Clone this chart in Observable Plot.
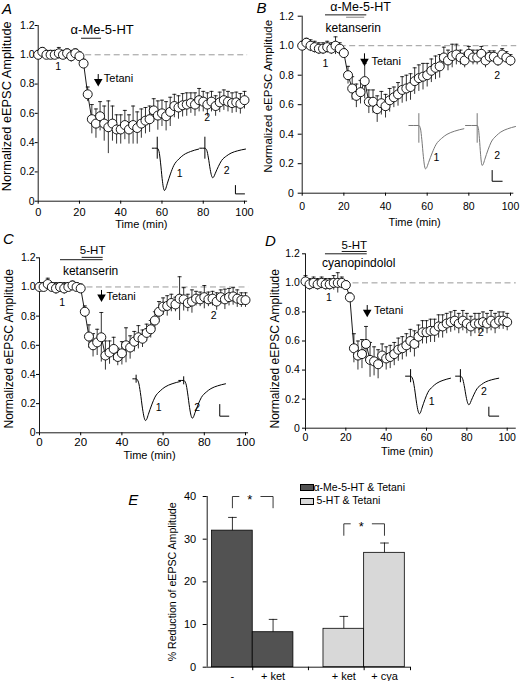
<!DOCTYPE html>
<html><head><meta charset="utf-8">
<script src="https://cdn.jsdelivr.net/npm/d3@7"></script>
<script src="https://cdn.jsdelivr.net/npm/@observablehq/plot@0.6"></script>
<style>
body{margin:0;background:#fff;}
#fig{position:relative;width:521px;height:681px;overflow:hidden;font-family:"Liberation Sans",Arial,Helvetica,sans-serif;color:#000;}
#fig svg{position:absolute;overflow:visible;color:#000;}
.letter{position:absolute;font-style:italic;font-size:15px;line-height:15px;}
.leg{position:absolute;font-size:10.5px;line-height:12px;white-space:nowrap;}
.sw{position:absolute;width:12px;height:5px;border:0.8px solid #000;}
</style></head><body><div id="fig"></div>
<script>
// ---------- data ----------
const time = [0,2,4,6,8,10,12,14,16,18,20,22,24,26,28,30,32,34,36,38,40,42,44,46,48,50,52,54,56,58,60,62,64,66,68,70,72,74,76,78,80,82,84,86,88,90,92,94,96,98,100];
const xTicks = [0,20,40,60,80,100];
const yTicks = [0,0.2,0.4,0.6,0.8,1.0,1.2];

const ampA = [1.00,1.02,1.00,1.00,1.00,1.01,1.00,1.01,0.99,1.01,0.99,
  0.94,0.73,0.56,0.53,0.58,0.53,0.505,0.53,0.49,0.49,
  0.52,0.49,0.52,0.50,0.53,0.55,0.56,0.62,0.585,0.60,
  0.58,0.61,0.65,0.64,0.655,0.66,0.67,0.66,0.69,0.68,
  0.66,0.68,0.65,0.675,0.69,0.68,0.67,0.675,0.665,0.69];
const errA = [0.03,0.03,0.03,0.03,0.03,0.04,0.03,0.03,0.04,0.03,0.03,
  0.03,0.05,0.10,0.10,0.10,0.12,0.18,0.12,0.10,0.10,
  0.10,0.10,0.13,0.11,0.10,0.09,0.09,0.08,0.10,0.09,
  0.10,0.10,0.08,0.08,0.08,0.08,0.07,0.08,0.08,0.07,
  0.08,0.07,0.07,0.07,0.07,0.07,0.07,0.07,0.07,0.06];

const ampB = [1.00,1.02,1.00,0.99,0.98,0.98,0.99,0.98,1.00,0.98,0.95,
  0.80,0.71,0.66,0.685,0.76,0.62,0.62,0.57,0.61,0.59,
  0.63,0.65,0.67,0.70,0.71,0.72,0.76,0.78,0.79,0.80,
  0.83,0.85,0.86,0.92,0.90,0.93,0.94,0.92,0.90,0.945,
  0.92,0.92,0.945,0.90,0.925,0.925,0.90,0.94,0.92,0.90];
const errB = [0.03,0.03,0.04,0.04,0.04,0.04,0.04,0.04,0.06,0.04,0.03,
  0.06,0.08,0.08,0.08,0.12,0.08,0.08,0.09,0.08,0.08,
  0.08,0.07,0.08,0.09,0.09,0.09,0.09,0.09,0.09,0.08,
  0.08,0.08,0.08,0.07,0.07,0.08,0.07,0.05,0.05,0.05,
  0.05,0.05,0.05,0.05,0.04,0.04,0.04,0.04,0.04,0.04];

const ampC = [1.00,1.00,1.02,1.00,0.99,1.00,0.99,1.00,1.01,1.00,0.99,
  0.83,0.66,0.60,0.62,0.655,0.53,0.55,0.575,0.52,0.545,
  0.60,0.585,0.625,0.655,0.645,0.685,0.71,0.77,0.83,0.865,
  0.87,0.89,0.88,0.92,0.915,0.89,0.90,0.92,0.915,0.93,
  0.915,0.92,0.90,0.93,0.915,0.93,0.935,0.92,0.91,0.91];
const errC = [0.03,0.03,0.04,0.03,0.04,0.03,0.04,0.03,0.03,0.03,0.03,
  0.04,0.08,0.08,0.09,0.17,0.10,0.08,0.08,0.06,0.08,
  0.12,0.08,0.07,0.08,0.06,0.06,0.06,0.06,0.07,0.06,
  0.07,0.06,0.05,0.15,0.08,0.06,0.08,0.05,0.05,0.08,
  0.05,0.05,0.06,0.05,0.07,0.06,0.06,0.06,0.05,0.05];

const ampD = [1.01,0.99,1.00,0.99,1.00,0.99,0.99,1.00,1.00,1.00,0.985,
  0.90,0.55,0.50,0.51,0.58,0.47,0.46,0.44,0.50,0.48,
  0.49,0.51,0.54,0.55,0.57,0.60,0.58,0.63,0.66,0.66,
  0.67,0.67,0.70,0.70,0.72,0.73,0.74,0.72,0.74,0.72,
  0.70,0.72,0.72,0.73,0.72,0.74,0.72,0.74,0.74,0.73];
const errD = [0.04,0.04,0.04,0.04,0.04,0.04,0.04,0.05,0.07,0.04,0.03,
  0.03,0.10,0.10,0.10,0.12,0.12,0.10,0.10,0.08,0.08,
  0.08,0.08,0.08,0.08,0.08,0.08,0.09,0.08,0.08,0.08,
  0.08,0.08,0.08,0.08,0.07,0.07,0.07,0.07,0.07,0.07,
  0.07,0.07,0.07,0.07,0.07,0.07,0.07,0.06,0.06,0.06];

// example EPSC traces (in each panel's data units)
const tracesA = [{x0:55.3,xs:57.7,xm:61.2,xe:77.8,yb:0.362,ym:0.073,ye:0.356},{x0:78.3,xs:80.8,xm:84.6,xe:100.5,yb:0.362,ym:0.16,ye:0.356}];
const tracesB = [{x0:51.2,xs:56.0,xm:59.2,xe:77.6,yb:0.459,ym:0.165,ye:0.437},{x0:78.4,xs:84.0,xm:86.4,xe:102.4,yb:0.459,ym:0.188,ye:0.452}];
const tracesC = [{x0:45.3,xs:46.9,xm:51.5,xe:68.4,yb:0.37,ym:0.084,ye:0.352},{x0:67.6,xs:70.0,xm:74.2,xe:90.3,yb:0.359,ym:0.10,ye:0.336}];
const tracesD = [{x0:49.6,xs:52.1,xm:56.5,xe:71.9,yb:0.358,ym:0.099,ye:0.344},{x0:74.4,xs:76.8,xm:81.0,xe:95.8,yb:0.358,ym:0.161,ye:0.344}];
const traceFall = [[0,0],[0.25,0.08],[0.45,0.33],[0.68,0.72],[0.85,0.93],[1,1]];
const traceRise = [[0,1],[0.03,0.97],[0.08,0.84],[0.175,0.6],[0.27,0.4],[0.42,0.24],[0.56,0.14],[0.76,0.06],[1,0]];

// panel E
const eLabels = ["-", "+ ket", "+ ket", "+ cya"];
const eValues = [32.0, 8.2, 9.0, 26.8];
const eErrors = [3.1, 3.0, 2.9, 2.3];
const eGroups = ["α-Me-5-HT & Tetani", "α-Me-5-HT & Tetani", "5-HT & Tetani", "5-HT & Tetani"];
const eGroupNames = ["α-Me-5-HT & Tetani", "5-HT & Tetani"];
const eColors = ["#525252", "#d8d8d8"];
const eTicks = [0,10,20,30,40];

// ---------- drawing ----------
const FONT = "'Liberation Sans', Arial, Helvetica, sans-serif";
const hline = {draw(ctx, size){ const w = Math.sqrt(size/Math.PI); ctx.moveTo(-w,0); ctx.lineTo(w,0); }};
const fig = document.getElementById("fig");

function tracePoints(p, id){
  const pts = [{x:p.x0, y:p.yb, id}];
  for (const [f,d] of traceFall) pts.push({x:p.xs+f*(p.xm-p.xs), y:p.yb-d*(p.yb-p.ym), id});
  for (const [g,r] of traceRise.slice(1)) pts.push({x:p.xm+g*(p.xe-p.xm), y:p.ye+r*(p.ym-p.ye), id});
  return pts;
}

function place(svg, left, top){
  svg.style.left = left + "px"; svg.style.top = top + "px";
  fig.appendChild(svg);
}

function timecourse(c){
  const pts = time.map((t,i)=>({t, v:c.amp[i], e:c.err[i]}));
  const tr = c.traces.flatMap((p,i)=>tracePoints(p,i));
  const sb = c.scaleBar;
  const svg = Plot.plot({
    width:c.w, height:c.h,
    marginLeft:c.ml, marginRight:c.mr, marginTop:c.mt, marginBottom:c.mb,
    x:{domain:[0,100]}, y:{domain:[0,1.2]},
    style:{fontFamily:FONT, fontSize:"11px", overflow:"visible", background:"transparent", color:"black"},
    marks:[
      Plot.ruleY([1], {x1:0, x2:c.dashEnd, stroke:"#9a9a9a", strokeWidth:1, strokeDasharray:"6,3.5"}),
      Plot.ruleX([0], {y1:0, y2:1.2, stroke:"black", strokeWidth:0.9}),
      Plot.ruleY([0], {x1:0, x2:c.axisEnd, stroke:"black", strokeWidth:0.9}),
      Plot.axisX({ticks:xTicks, tickSize:3, tickPadding:c.xPad, fontSize:c.xFont, label:null, fill:"black"}),
      Plot.axisY({ticks:yTicks, tickSize:c.yTick, tickPadding:c.yPad, fontSize:10.5, label:null, fill:"black",
                  tickFormat:d=>d===0?"0":d.toFixed(1)}),
      Plot.text(["Normalized eEPSC Amplitude"], {frameAnchor:"left", dx:c.ytDx, dy:c.ytDy, rotate:-90,
                  textAnchor:"middle", lineAnchor:"middle", fontSize:c.ytFont, fill:"black"}),
      Plot.text(["Time (min)"], {x:c.xtX, frameAnchor:"bottom", dy:c.xtDy, lineAnchor:"middle", fontSize:11, fill:"black"}),
      // drug applications
      Plot.ruleY(c.drugLines, {x1:"x1", x2:"x2", y:"y", stroke:"stroke", strokeWidth:0.9}),
      Plot.text(c.drugTexts, {x:"x", y:"y", text:"text", fontSize:"size", lineAnchor:"middle", fill:"black"}),
      // tetani arrow
      Plot.ruleX([c.tetani], {x:"x", y1:"y1", y2:"y2", stroke:"black", strokeWidth:1}),
      Plot.dot([c.tetani], {x:"x", y:"y2", symbol:"triangle", rotate:180, r:3.2, fill:"black", stroke:"none", dy:-2.5}),
      Plot.text([c.tetani], {x:"tx", y:"ty", text:()=>"Tetani", textAnchor:"start", lineAnchor:"middle", fontSize:11, fill:"black"}),
      // data
      Plot.ruleX(pts, {x:"t", y1:d=>d.v-d.e, y2:d=>d.v+d.e, stroke:"black", strokeWidth:0.8}),
      Plot.dot(pts, {x:"t", y:d=>d.v+d.e, symbol:hline, r:2, stroke:"black", strokeWidth:0.8, fill:"none"}),
      Plot.line(pts, {x:"t", y:"v", stroke:"black", strokeWidth:0.9}),
      Plot.dot(pts, {x:"t", y:"v", r:4.5, fill:"white", stroke:"black", strokeWidth:0.9}),
      Plot.text(c.ptLabels, {x:"x", y:"y", text:"text", fontSize:10.5, lineAnchor:"middle", fill:"black"}),
      // example traces
      Plot.line(tr, {x:"x", y:"y", z:"id", stroke:c.traceColor, strokeWidth:1, curve:"monotone-x"}),
      Plot.ruleX(c.traces, {x:"xs", y1:d=>d.yb-c.spike[1], y2:d=>d.yb+c.spike[0], stroke:c.traceColor, strokeWidth:1}),
      Plot.text(c.traceLabels, {x:"x", y:"y", text:"text", fontSize:10.5, lineAnchor:"middle", fill:"black"}),
      Plot.line([{x:sb.x1,y:sb.y1},{x:sb.x1,y:sb.y2},{x:sb.x2,y:sb.y2}], {x:"x", y:"y", stroke:"black", strokeWidth:1})
    ]
  });
  place(svg, c.left, c.top);
}

timecourse({amp:ampA, err:errA, left:0, top:0, w:260, h:228, ml:37.7, mr:16, mt:25, mb:27.3,
  axisEnd:101.5, dashEnd:101.5, xPad:4, xFont:11, yTick:3, yPad:0.5, ytDx:-31.5, ytDy:-7, ytFont:12.8,
  xtX:50, xtDy:23.3, traceColor:"black", traces:tracesA, spike:[0.075,0.075],
  drugLines:[{x1:21,x2:30.7,y:1.113,stroke:"black"}],
  drugTexts:[{x:31,y:1.173,text:"α-Me-5-HT",size:13}],
  tetani:{x:29.1,y1:0.865,y2:0.80,tx:31.8,ty:0.836},
  ptLabels:[{x:9.7,y:0.922,text:"1"},{x:81.9,y:0.57,text:"2"}],
  traceLabels:[{x:68.6,y:0.187,text:"1"},{x:91.3,y:0.21,text:"2"}],
  scaleBar:{x1:95.6,x2:100,y1:0.107,y2:0.05}});

timecourse({amp:ampB, err:errB, left:260, top:0, w:261, h:228, ml:41.7, mr:11, mt:15.7, mb:35.3,
  axisEnd:101.6, dashEnd:103, xPad:6, xFont:10.5, yTick:4, yPad:4.4, ytDx:-33.4, ytDy:-8.4, ytFont:11.5,
  xtX:54, xtDy:29, traceColor:"#777", traces:tracesB, spike:[0.08,0.12],
  drugLines:[{x1:11.2,x2:31,y:1.209,stroke:"black"},{x1:21.3,x2:30,y:1.193,stroke:"#777"}],
  drugTexts:[{x:28,y:1.26,text:"α-Me-5-HT",size:12.5},{x:24.5,y:1.12,text:"ketanserin",size:12}],
  tetani:{x:29.9,y1:0.945,y2:0.877,tx:33.3,ty:0.893},
  ptLabels:[{x:11.2,y:0.877,text:"1"},{x:93.6,y:0.80,text:"2"}],
  traceLabels:[{x:64.4,y:0.244,text:"1"},{x:93.6,y:0.256,text:"2"}],
  scaleBar:{x1:91.2,x2:96,y1:0.154,y2:0.081}});

timecourse({amp:ampC, err:errC, left:0, top:228, w:260, h:228, ml:39, mr:15, mt:29.3, mb:23.7,
  axisEnd:101.5, dashEnd:101.5, xPad:2.4, xFont:11.5, yTick:3, yPad:1, ytDx:-30.7, ytDy:3.5, ytFont:12,
  xtX:53.4, xtDy:22.7, traceColor:"black", traces:tracesC, spike:[0.025,0.03],
  drugLines:[{x1:10.2,x2:30.9,y:1.187,stroke:"black"},{x1:20.7,x2:30.9,y:1.203,stroke:"black"}],
  drugTexts:[{x:25.8,y:1.25,text:"5-HT",size:11.5},{x:24.8,y:1.108,text:"ketanserin",size:12}],
  tetani:{x:30.1,y1:0.976,y2:0.914,tx:32.5,ty:0.937},
  ptLabels:[{x:11,y:0.896,text:"1"},{x:84.6,y:0.805,text:"2"}],
  traceLabels:[{x:57.9,y:0.176,text:"1"},{x:76.6,y:0.176,text:"2"}],
  scaleBar:{x1:87.5,x2:91.9,y1:0.194,y2:0.114}});

timecourse({amp:ampD, err:errD, left:260, top:228, w:261, h:228, ml:45, mr:14.3, mt:25.3, mb:28.3,
  axisEnd:104.5, dashEnd:104.5, xPad:2, xFont:10.5, yTick:3, yPad:2.7, ytDx:-30, ytDy:7.8, ytFont:12,
  xtX:50.4, xtDy:23.3, traceColor:"black", traces:tracesD, spike:[0.045,0.045],
  drugLines:[{x1:9.9,x2:30.6,y:1.2,stroke:"black"},{x1:18.2,x2:30.6,y:1.216,stroke:"black"}],
  drugTexts:[{x:24.2,y:1.257,text:"5-HT",size:11.5},{x:26.4,y:1.138,text:"cyanopindolol",size:12}],
  tetani:{x:30.6,y1:0.844,y2:0.78,tx:33.9,ty:0.808},
  ptLabels:[{x:11.6,y:0.90,text:"1"},{x:86.8,y:0.66,text:"2"}],
  traceLabels:[{x:62.5,y:0.18,text:"1"},{x:88.4,y:0.25,text:"2"}],
  scaleBar:{x1:90.9,x2:95.8,y1:0.145,y2:0.083}});

// ---- panel E ----
(function(){
  const gap = 0.74;                       // spacing between the two groups (bar widths)
  const xMin = -0.12, xMax = 4.88;
  const bars = eLabels.map((l,i)=>{
    const s = i + (i >= 2 ? gap : 0);
    return {label:l, v:eValues[i], e:eErrors[i], g:eGroups[i], x1:s, x2:s+1, xc:s+0.5};
  });
  const boundaries = [bars[0].x2, (bars[1].x2+bars[2].x1)/2, bars[2].x2, xMax];
  const brackets = [{a:0,b:1,top:40,leg:37.35},{a:2,b:3,top:33.6,leg:30.9}];
  const bl = [];
  brackets.forEach((k,j)=>{
    const xa = bars[k.a].xc, xb = bars[k.b].xc, m = (xa+xb)/2;
    bl.push({x:xa,y:k.leg,id:j+"l"},{x:xa,y:k.top,id:j+"l"},{x:m-0.34,y:k.top,id:j+"l"});
    bl.push({x:m+0.2,y:k.top,id:j+"r"},{x:xb,y:k.top,id:j+"r"},{x:xb,y:k.leg,id:j+"r"});
  });
  const stars = brackets.map(k=>({x:(bars[k.a].xc+bars[k.b].xc)/2 - 0.07, y:k.top}));
  const svg = Plot.plot({
    width:300, height:211, marginLeft:76.7, marginRight:20, marginTop:26, marginBottom:14.3,
    x:{domain:[xMin,xMax]}, y:{domain:[0,40]},
    color:{domain:eGroupNames, range:eColors},
    style:{fontFamily:FONT, fontSize:"11px", overflow:"visible", background:"transparent", color:"black"},
    marks:[
      Plot.rect(bars, {x1:"x1", x2:"x2", y1:0, y2:"v", fill:"g", stroke:"black", strokeWidth:0.8}),
      Plot.ruleX(bars, {x:"xc", y1:"v", y2:d=>d.v+d.e, stroke:"black", strokeWidth:0.8}),
      Plot.dot(bars, {x:"xc", y:d=>d.v+d.e, symbol:hline, r:4.3, stroke:"black", strokeWidth:0.8, fill:"none"}),
      Plot.ruleX([xMin], {y1:0, y2:40, stroke:"black", strokeWidth:0.9}),
      Plot.ruleY([0], {x1:xMin, x2:xMax, stroke:"black", strokeWidth:0.9}),
      Plot.axisY({ticks:eTicks, tickSize:4, tickPadding:7, fontSize:11, label:null, fill:"black"}),
      Plot.axisX({ticks:boundaries, tickSize:3.5, tickFormat:()=>"", label:null}),
      Plot.text(bars, {x:"xc", y:0, text:"label", dy:9.5, lineAnchor:"middle", fontSize:11, fill:"black"}),
      Plot.text(["% Reduction of eEPSC Amplitude"], {frameAnchor:"left", dx:-35, dy:0, rotate:-90,
        textAnchor:"middle", lineAnchor:"middle", fontSize:10.6, fill:"black"}),
      Plot.line(bl, {x:"x", y:"y", z:"id", stroke:"#222", strokeWidth:0.9}),
      Plot.text(stars, {x:"x", y:"y", text:()=>"*", fontSize:13, lineAnchor:"middle", dy:3, fill:"black"})
    ]
  });
  place(svg, 130, 470);

  // legend
  const legTop = [484.3, 497.7];
  eGroupNames.forEach((g,i)=>{
    const sw = document.createElement("div");
    sw.className = "sw"; sw.style.left = "299.5px"; sw.style.top = legTop[i] + "px"; sw.style.background = eColors[i];
    fig.appendChild(sw);
    const t = document.createElement("div");
    t.className = "leg"; t.textContent = g;
    t.style.left = (i === 0 ? 313.5 : 316.5) + "px"; t.style.top = (legTop[i] - 3.3) + "px";
    fig.appendChild(t);
  });
})();

// panel letters
[["A",2,0.5],["B",256.5,0],["C",3,230.5],["D",265,233],["E",128.3,492.3]].forEach(([l,x,y])=>{
  const d = document.createElement("div");
  d.className = "letter"; d.textContent = l; d.style.left = x + "px"; d.style.top = y + "px";
  fig.appendChild(d);
});
</script>
</body></html>
